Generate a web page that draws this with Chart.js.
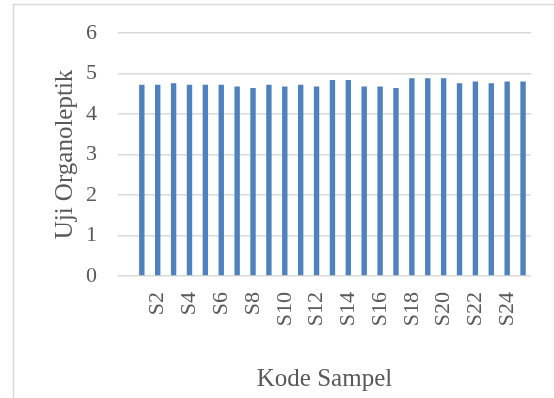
<!DOCTYPE html>
<html>
<head>
<meta charset="utf-8">
<script src="https://cdn.jsdelivr.net/npm/chart.js@4.4.1/dist/chart.umd.min.js"></script>
<style>
  html, body { margin: 0; padding: 0; background: #ffffff; }
  #wrap { width: 554px; height: 398px; }
</style>
</head>
<body>
<div id="wrap"><canvas id="c" width="554" height="398"></canvas></div>
<script>
// Categories (first slot is empty, as in the source chart)
const categories = ["", "S1", "S2", "S3", "S4", "S5", "S6", "S7", "S8", "S9", "S10",
  "S11", "S12", "S13", "S14", "S15", "S16", "S17", "S18", "S19", "S20",
  "S21", "S22", "S23", "S24", "S25"];
// Organoleptic scores
const scores = [null, 4.72, 4.72, 4.76, 4.72, 4.72, 4.72, 4.68, 4.64, 4.72, 4.68,
  4.72, 4.68, 4.84, 4.84, 4.68, 4.68, 4.64, 4.88, 4.88, 4.88,
  4.76, 4.80, 4.76, 4.80, 4.80];
const yTicks = [0, 1, 2, 3, 4, 5, 6];
const xTitle = "Kode Sampel";
const yTitle = "Uji Organoleptik";

const textColor = "#595959";
const fontFamily = "'Liberation Serif', 'Times New Roman', serif";

const frame = {
  id: "frame",
  beforeDraw(chart) {
    const ctx = chart.ctx;
    ctx.save();
    ctx.strokeStyle = "#d9d9d9";
    ctx.lineWidth = 1.5;
    ctx.beginPath();
    ctx.moveTo(13.5, 400);
    ctx.lineTo(13.5, 4.5);
    ctx.lineTo(560, 4.5);
    ctx.stroke();
    ctx.restore();
  }
};

new Chart(document.getElementById("c"), {
  type: "bar",
  data: {
    labels: categories,
    datasets: [{
      label: yTitle,
      data: scores,
      backgroundColor: "#4f81bd",
      borderWidth: 0,
      barPercentage: 0.34,
      categoryPercentage: 1.0
    }]
  },
  options: {
    responsive: false,
    animation: false,
    layout: { padding: { left: 40, right: 23, top: 33, bottom: 0 } },
    plugins: { legend: { display: false }, tooltip: { enabled: false } },
    scales: {
      x: {
        grid: { display: false, drawTicks: false },
        border: { display: false },
        afterFit(scale) {
          scale.height = 122;
          scale.paddingLeft = 0;
          scale.paddingRight = 0;
        },
        ticks: {
          autoSkip: false,
          maxRotation: 90,
          minRotation: 90,
          padding: 16,
          color: textColor,
          font: { family: fontFamily, size: 22 },
          callback(value, index) {
            return index % 2 === 0 ? categories[index] : "";
          }
        },
        title: {
          display: true,
          text: xTitle,
          color: textColor,
          font: { family: fontFamily, size: 25 },
          padding: { top: 0, bottom: 4 }
        }
      },
      y: {
        min: 0,
        max: 6,
        afterFit(scale) {
          scale.width = 78;
          scale.paddingTop = 0;
          scale.paddingBottom = 0;
        },
        afterBuildTicks(scale) { scale.ticks = yTicks.map(v => ({ value: v })); },
        grid: { color: "#d9d9d9", lineWidth: 1.5, drawTicks: false },
        border: { display: false },
        ticks: {
          padding: 21,
          color: textColor,
          font: { family: fontFamily, size: 22 }
        },
        title: {
          display: true,
          text: yTitle,
          color: textColor,
          font: { family: fontFamily, size: 25 },
          padding: { top: 10, bottom: 0 }
        }
      }
    }
  },
  plugins: [frame]
});
</script>
</body>
</html>
